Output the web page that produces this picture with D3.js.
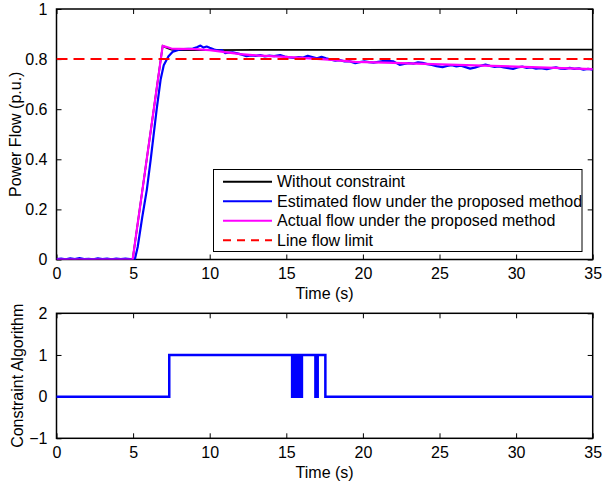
<!DOCTYPE html>
<html><head><meta charset="utf-8">
<script src="https://cdn.jsdelivr.net/npm/d3@7"></script>
<style>body{margin:0;background:#fff}svg{display:block}text{font-family:"Liberation Sans",Arial,sans-serif}</style>
</head><body>
<svg id="c" width="603" height="483"></svg>
<script>
// ---- data ----
const xTicks = [0,5,10,15,20,25,30,35];
const yTicksTop = [0,0.2,0.4,0.6,0.8,1];
const yTicksBottom = [-1,0,1,2];
const flowLimit = 0.8;

const tBlack = [0,4.97,6.93,7.2,7.5,8,10,15,20,25,30,35];
const vBlack = [0,0,0.853,0.845,0.838,0.836,0.836,0.837,0.837,0.838,0.838,0.838];

const tMagenta = [0,4.97,6.93,7.2,7.5,8,9,10,11,12,13,14.6,16,18,19.5,22,24,27.3,30,32.5,35];
const vMagenta = [0,0,0.853,0.848,0.842,0.841,0.84,0.836,0.828,0.82,0.815,0.81,0.805,0.797,0.789,0.785,0.781,0.775,0.77,0.765,0.76];

const tBlue = [0,0.3,0.6,0.9,1.2,1.5,1.8,2.1,2.4,2.7,3.0,3.3,3.6,3.9,4.2,4.5,4.8,5.12,
  5.3,5.6,5.9,6.15,6.54,6.8,7.0,7.3,7.6,8.0,8.3,8.6,8.9,9.2,9.4,9.6,9.8,10.0,10.3,10.6,10.8,11.0,11.2,11.5,11.8,
  12.1,12.4,12.7,13.0,13.3,13.6,13.9,14.2,14.6,14.9,15.2,15.5,15.8,16.1,16.4,16.7,17.0,17.3,17.6,17.9,18.2,18.5,
  18.8,19.1,19.5,19.8,20.1,20.4,20.7,21.0,21.3,21.6,22.0,22.2,22.4,22.7,23.0,23.3,23.6,23.9,24.2,24.5,24.8,25.2,
  25.5,25.8,26.1,26.4,26.7,27.0,27.3,27.6,28.0,28.3,28.6,28.9,29.2,29.5,29.8,30.1,30.4,30.7,31.0,31.3,31.6,32.0,
  32.3,32.6,32.9,33.2,33.5,33.8,34.1,34.4,34.7,35.0];
const vBlue = [0.002,0.004,0.001,0.005,0.002,0.006,0.002,0.003,0.001,0.005,0.002,0.004,0.001,0.004,0.002,0.004,0.002,0.002,
  0.05,0.17,0.28,0.40,0.60,0.72,0.775,0.81,0.83,0.838,0.84,0.841,0.842,0.848,0.854,0.846,0.85,0.845,0.838,0.834,0.836,0.824,0.826,0.827,0.823,
  0.818,0.812,0.815,0.813,0.816,0.811,0.814,0.812,0.816,0.81,0.807,0.805,0.808,0.806,0.813,0.808,0.803,0.809,0.803,0.798,0.794,0.796,
  0.791,0.792,0.784,0.788,0.791,0.788,0.786,0.789,0.792,0.793,0.791,0.784,0.777,0.781,0.784,0.782,0.787,0.785,0.78,0.777,0.772,0.768,
  0.773,0.776,0.771,0.774,0.768,0.762,0.766,0.772,0.778,0.773,0.769,0.771,0.767,0.764,0.761,0.767,0.77,0.765,0.767,0.762,0.764,0.76,
  0.764,0.767,0.762,0.761,0.765,0.761,0.763,0.758,0.761,0.758];

const tSwitch = [0,7.36,15.38,15.44,15.56,15.62,15.72,15.76,15.8,15.84,15.88,15.92,15.96,16.02,16.06,16.9,17.05,17.55,35];
const vSwitch = [0,1,0,1,0,1,0,1,0,1,0,1,0,1,1,0,1,0,0];

const legendLabels = ["Without constraint","Estimated flow under the proposed method","Actual flow under the proposed method","Line flow limit"];
const legendColors = ["#000000","#0000ff","#ff00ff","#ff0000"];

// ---- drawing ----
const svg = d3.select("#c");
const x = d3.scaleLinear().domain([0,35]).range([56.5,592.7]);
const yTop = d3.scaleLinear().domain([0,1]).range([259.5,9]);
const yBot = d3.scaleLinear().domain([-1,2]).range([438.3,313.3]);
const FS = 16;

function frame(y, yTicks, fmt) {
  const g = svg.append("g");
  const [y0,y1] = y.range();
  const [x0,x1] = x.range();
  g.append("g").attr("transform",`translate(0,${y0})`)
    .call(d3.axisBottom(x).tickValues(xTicks).tickSizeInner(-5).tickSizeOuter(0).tickPadding(8).tickFormat(d3.format("d")));
  g.append("g").attr("transform",`translate(0,${y1})`)
    .call(d3.axisTop(x).tickValues(xTicks).tickSizeInner(-5).tickSizeOuter(0).tickFormat(""));
  g.append("g").attr("transform",`translate(${x0},0)`)
    .call(d3.axisLeft(y).tickValues(yTicks).tickSizeInner(-5).tickSizeOuter(0).tickPadding(9).tickFormat(fmt));
  g.append("g").attr("transform",`translate(${x1},0)`)
    .call(d3.axisRight(y).tickValues(yTicks).tickSizeInner(-5).tickSizeOuter(0).tickFormat(""));
  g.selectAll(".domain").remove();
  g.selectAll(".tick line").attr("stroke","#000").attr("stroke-width",1);
  g.selectAll(".tick text").attr("font-size",FS).attr("fill","#000").attr("font-family","Liberation Sans, Arial, sans-serif");
  return g;
}
function border(y, g) {
  const [y0,y1] = y.range();
  const [x0,x1] = x.range();
  g.append("rect").attr("x",x0).attr("y",y1).attr("width",x1-x0).attr("height",y0-y1)
    .attr("fill","none").attr("stroke","#000").attr("stroke-width",1.5);
}

// top plot
const gt = frame(yTop, yTicksTop, d => d===0||d===1 ? String(d) : d3.format(".1f")(d));
const lineTop = d3.line().x(d=>x(d[0])).y(d=>yTop(d[1]));
svg.append("clipPath").attr("id","ct").append("rect")
  .attr("x",56.5).attr("y",9).attr("width",536.2).attr("height",250.5);
const pl = svg.append("g").attr("clip-path","url(#ct)");
pl.append("path").datum(tBlack.map((t,i)=>[t,vBlack[i]])).attr("d",lineTop)
  .attr("fill","none").attr("stroke","#000").attr("stroke-width",1.8);
pl.append("path").datum(tBlue.map((t,i)=>[t,vBlue[i]])).attr("d",lineTop)
  .attr("fill","none").attr("stroke","#0000ff").attr("stroke-width",2.2).attr("stroke-linejoin","round");
pl.append("path").datum(tMagenta.map((t,i)=>[t,vMagenta[i]])).attr("d",lineTop)
  .attr("fill","none").attr("stroke","#ff00ff").attr("stroke-width",2.2).attr("stroke-linejoin","round");
pl.append("path").datum([[0,flowLimit],[35,flowLimit]]).attr("d",lineTop)
  .attr("fill","none").attr("stroke","#ff0000").attr("stroke-width",2).attr("stroke-dasharray","11,6");
border(yTop, gt);

// legend
const lg = svg.append("g");
lg.append("rect").attr("x",213.5).attr("y",169.5).attr("width",368.5).attr("height",82)
  .attr("fill","#fff").attr("stroke","#000").attr("stroke-width",1);
legendLabels.forEach((lab,i)=>{
  const yy = 181.7 + i*19.5;
  lg.append("line").attr("x1",223).attr("x2",272).attr("y1",yy).attr("y2",yy)
    .attr("stroke",legendColors[i]).attr("stroke-width",2)
    .attr("stroke-dasharray", i===3 ? "8,6" : null);
  lg.append("text").attr("x",277).attr("y",yy).attr("dy","0.35em").attr("font-size",FS).text(lab);
});

svg.append("text").attr("x",(56.5+592.7)/2).attr("y",293).attr("dy","0.35em")
  .attr("text-anchor","middle").attr("font-size",FS).text("Time (s)");
svg.append("text").attr("transform",`translate(15,${(9+259.5)/2}) rotate(-90)`).attr("dy","0.35em")
  .attr("text-anchor","middle").attr("font-size",FS).text("Power Flow (p.u.)");

// bottom plot
const gb = frame(yBot, yTicksBottom, d => d<0 ? "\u2212"+Math.abs(d) : String(d));
const lineBot = d3.line().x(d=>x(d[0])).y(d=>yBot(d[1])).curve(d3.curveStepAfter);
svg.append("path").datum(tSwitch.map((t,i)=>[t,vSwitch[i]])).attr("d",lineBot)
  .attr("fill","none").attr("stroke","#0000ff").attr("stroke-width",2.5);
border(yBot, gb);

svg.append("text").attr("x",(56.5+592.7)/2).attr("y",472).attr("dy","0.35em")
  .attr("text-anchor","middle").attr("font-size",FS).text("Time (s)");
svg.append("text").attr("transform",`translate(17,${(313.3+438.3)/2}) rotate(-90)`).attr("dy","0.35em")
  .attr("text-anchor","middle").attr("font-size",FS).text("Constraint Algorithm");
</script>
</body></html>
